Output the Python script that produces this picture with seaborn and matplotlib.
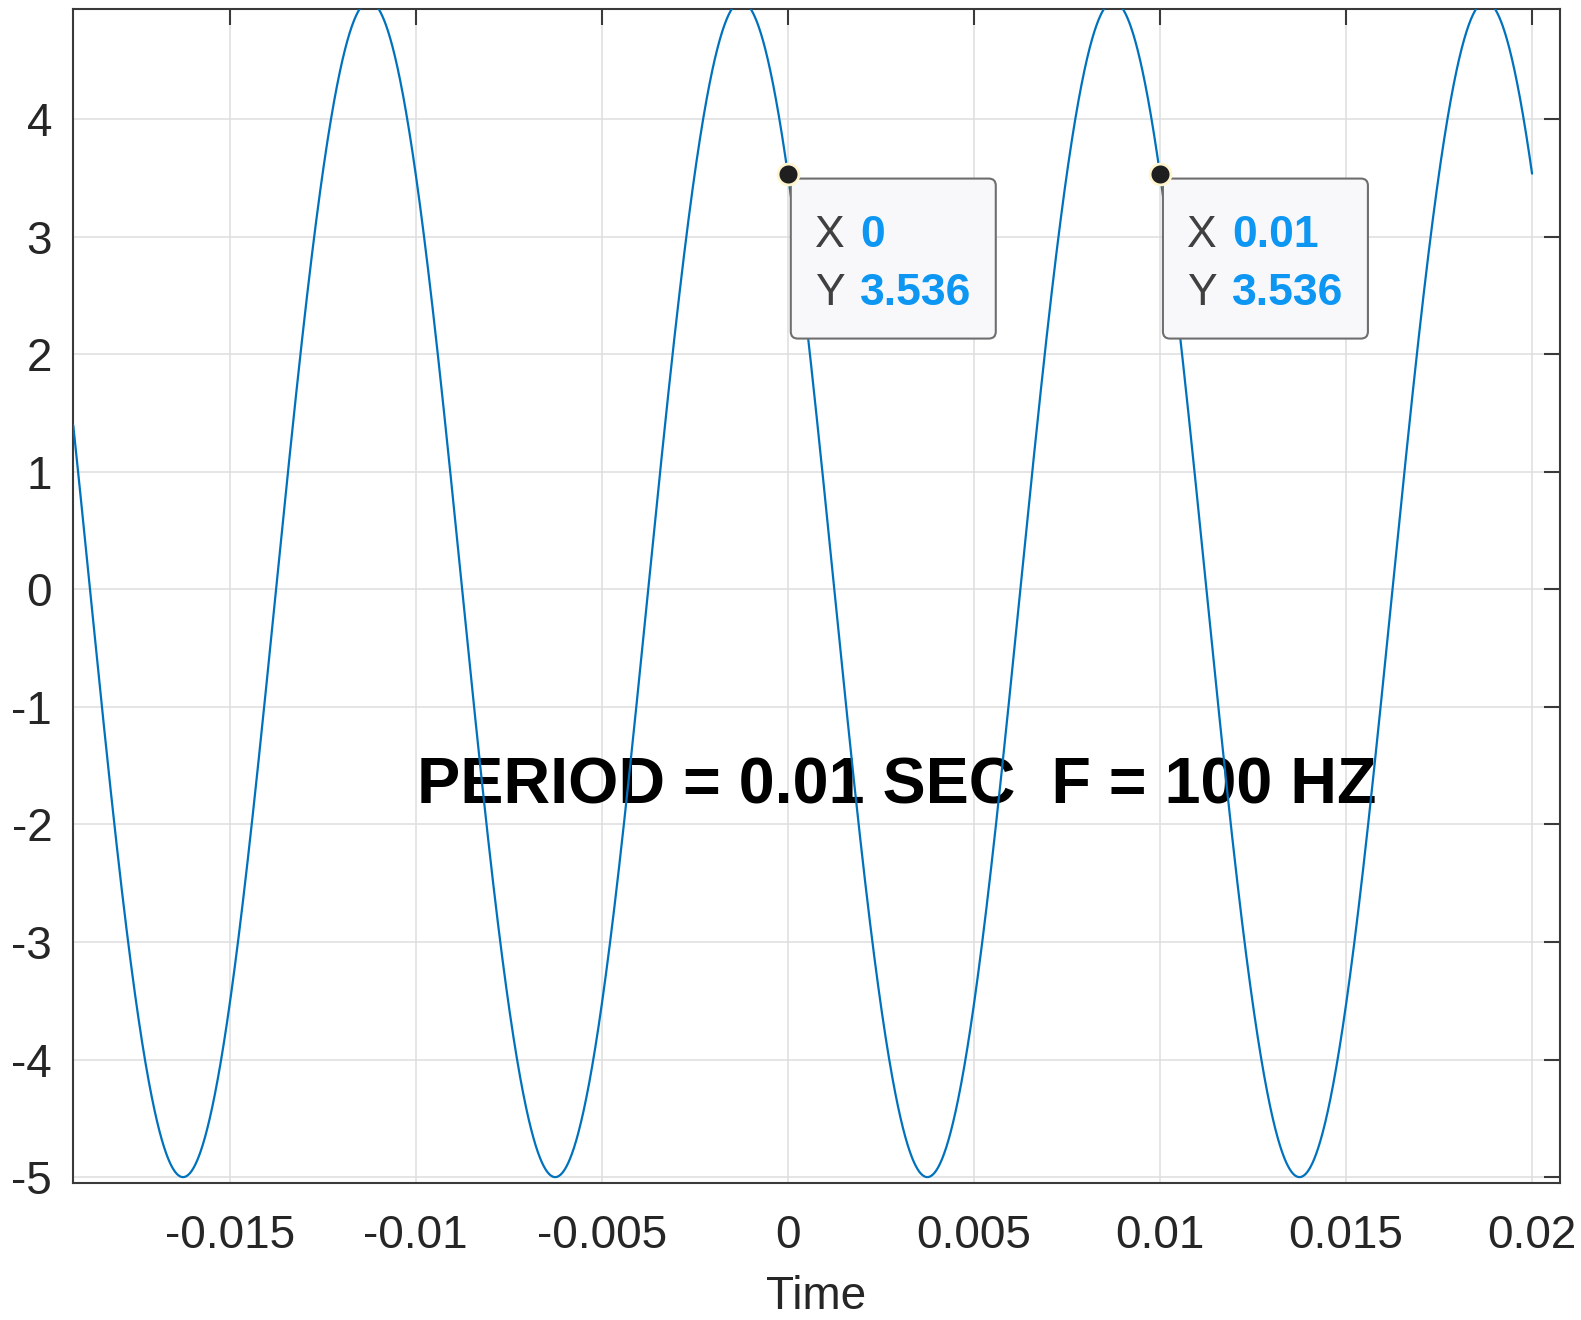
import numpy as np
import matplotlib
matplotlib.use("Agg")
import matplotlib.pyplot as plt
import matplotlib.transforms as mtransforms
from matplotlib.patches import FancyBboxPatch
import seaborn as sns

# signal: 5 V peak, 100 Hz, 3.536 at t = 0 (falling)
amplitude = 5.0
frequency_hz = 100.0
phase_rad = np.pi / 4
t_start, t_end = -0.0192, 0.02

# data tips
tip_x = [0.0, 0.01]
tip_y = [3.536, 3.536]
tip_x_labels = ["0", "0.01"]
tip_y_labels = ["3.536", "3.536"]

x_ticks = [-0.015, -0.01, -0.005, 0, 0.005, 0.01, 0.015, 0.02]
x_tick_labels = ["-0.015", "-0.01", "-0.005", "0", "0.005", "0.01", "0.015", "0.02"]
y_ticks = [-5, -4, -3, -2, -1, 0, 1, 2, 3, 4]
y_tick_labels = ["-5", "-4", "-3", "-2", "-1", "0", "1", "2", "3", "4"]

note_text = "PERIOD = 0.01 SEC  F = 100 HZ"

t = np.linspace(t_start, t_end, 4000)
v = amplitude * np.cos(2 * np.pi * frequency_hz * t + phase_rad)

sns.set_style("white")
plt.rcParams["font.family"] = ["Liberation Sans", "DejaVu Sans"]

axis_col = "#3a3a3a"
text_col = "#262626"

fig = plt.figure(figsize=(15.81, 13.2), dpi=100)
ax = fig.add_axes([0.0462, 0.1038, 0.9405, 0.8894])

sns.lineplot(x=t, y=v, ax=ax, color="#0072BD", linewidth=1.6, zorder=3,
             estimator=None, sort=False)

ax.set_xlim(-0.019206, 0.02075)
ax.set_ylim(-5.05, 4.936)
ax.set_xticks(x_ticks)
ax.set_xticklabels(x_tick_labels)
ax.set_yticks(y_ticks)
ax.set_yticklabels(y_tick_labels)

ax.grid(True, color="#dedede", linewidth=1.1, zorder=0)
ax.set_axisbelow(True)
for side in ["left", "right", "top", "bottom"]:
    ax.spines[side].set_visible(True)
    ax.spines[side].set_color(axis_col)
    ax.spines[side].set_linewidth(1.5)

ax.tick_params(axis="both", which="major", direction="in", length=11.5, width=1.5,
               color=axis_col, labelcolor=text_col, labelsize=33,
               top=True, right=True)
ax.tick_params(axis="x", pad=22)
ax.tick_params(axis="y", pad=15)

ax.set_xlabel("Time", fontsize=33, color=text_col, labelpad=12.5)

ax.text(-0.00995, -1.818, note_text, fontsize=46.5, fontweight="bold", color="black",
        ha="left", va="baseline", zorder=2)

# data tips, laid out in pixels from the tip point
for xv, yv, xl, yl in zip(tip_x, tip_y, tip_x_labels, tip_y_labels):
    tr = fig.dpi_scale_trans + mtransforms.ScaledTranslation(xv, yv, ax.transData)
    box = FancyBboxPatch((0.03, -1.65), 2.05, 1.60,
                         boxstyle="round,pad=0,rounding_size=0.07",
                         transform=tr, facecolor="#f8f8fb", edgecolor="#6e6e6e",
                         linewidth=1.5, zorder=5, clip_on=False)
    ax.add_patch(box)
    ax.plot([xv], [yv], marker="o", markersize=15, color="#1f1f1f",
            markeredgecolor="#fff6d0", markeredgewidth=2.0, zorder=6, clip_on=False)
    ax.text(0.27, -0.73, "X", transform=tr, fontsize=32, color="#404040",
            ha="left", va="baseline", zorder=7)
    ax.text(0.27, -1.31, "Y", transform=tr, fontsize=32, color="#404040",
            ha="left", va="baseline", zorder=7)
    ax.text(0.72, -0.73, xl, transform=tr, fontsize=32, fontweight="bold",
            color="#0d96f2", ha="left", va="baseline", zorder=7)
    ax.text(0.72, -1.31, yl, transform=tr, fontsize=32, fontweight="bold",
            color="#0d96f2", ha="left", va="baseline", zorder=7)

fig.savefig("out.png", dpi=100)
